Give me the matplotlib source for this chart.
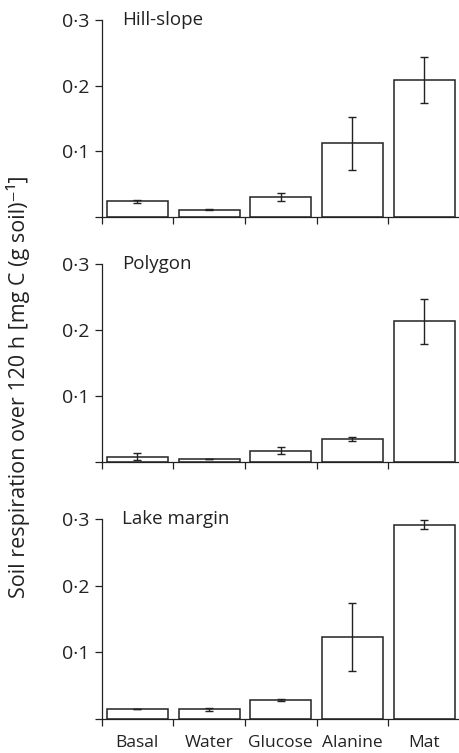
import numpy as np
import matplotlib
matplotlib.use('Agg')
import matplotlib.pyplot as plt

plt.rcParams['font.family'] = ['Open Sans', 'DejaVu Sans']

treatments = ['Basal', 'Water', 'Glucose', 'Alanine', 'Mat']
sites = ['Hill-slope', 'Polygon', 'Lake margin']

hill_mean = [0.024, 0.011, 0.030, 0.112, 0.209]
hill_err = [0.002, 0.001, 0.006, 0.041, 0.035]
poly_mean = [0.008, 0.005, 0.017, 0.035, 0.213]
poly_err = [0.005, 0.0, 0.005, 0.003, 0.034]
lake_mean = [0.015, 0.014, 0.028, 0.123, 0.292]
lake_err = [0.0, 0.002, 0.002, 0.051, 0.007]

means = [hill_mean, poly_mean, lake_mean]
errs = [hill_err, poly_err, lake_err]

ink = '#222222'
fig = plt.figure(figsize=(4.6, 7.53), dpi=100)
boxes = [[0.2207, 0.7118, 0.7793, 0.2616],
         [0.2207, 0.3865, 0.7793, 0.2630],
         [0.2207, 0.0456, 0.7793, 0.2648]]

x = np.arange(len(treatments))
for i, (site, m, e) in enumerate(zip(sites, means, errs)):
    ax = fig.add_axes(boxes[i])
    ax.bar(x, m, width=0.85, color='white', edgecolor=ink, linewidth=1.1)
    ax.errorbar(x, m, yerr=e, fmt='none', ecolor=ink, elinewidth=1.0,
                capsize=3, capthick=1.0)
    ax.set_xlim(-0.5, 4.5)
    ax.set_ylim(0, 0.3)
    ax.set_yticks([0, 0.1, 0.2, 0.3])
    ax.set_yticklabels(['', '0·1', '0·2', '0·3'], fontsize=14, color=ink)
    ax.tick_params(axis='y', direction='out', length=5, width=0.9, color=ink, pad=4)
    ax.set_xticks(x)
    ax.set_xticks(np.arange(-0.5, 4.5, 1), minor=True)
    ax.tick_params(axis='x', which='major', length=0, pad=12)
    ax.tick_params(axis='x', which='minor', direction='out', length=5,
                   width=0.9, color=ink)
    if i == 2:
        ax.set_xticklabels(treatments, fontsize=12.5, color=ink)
    else:
        ax.set_xticklabels([])
    for s in ['top', 'right']:
        ax.spines[s].set_visible(False)
    for s in ['left', 'bottom']:
        ax.spines[s].set_color(ink)
        ax.spines[s].set_linewidth(0.9)
    ax.text(0.058, 0.3, site, transform=ax.get_yaxis_transform(),
            ha='left', va='center', fontsize=13.5, color=ink)

fig.text(0.04, 0.487, 'Soil respiration over 120 h [mg C (g soil)⁻¹]',
         rotation=90, ha='center', va='center', fontsize=15.5, color=ink)

fig.savefig('out.png', dpi=100)
